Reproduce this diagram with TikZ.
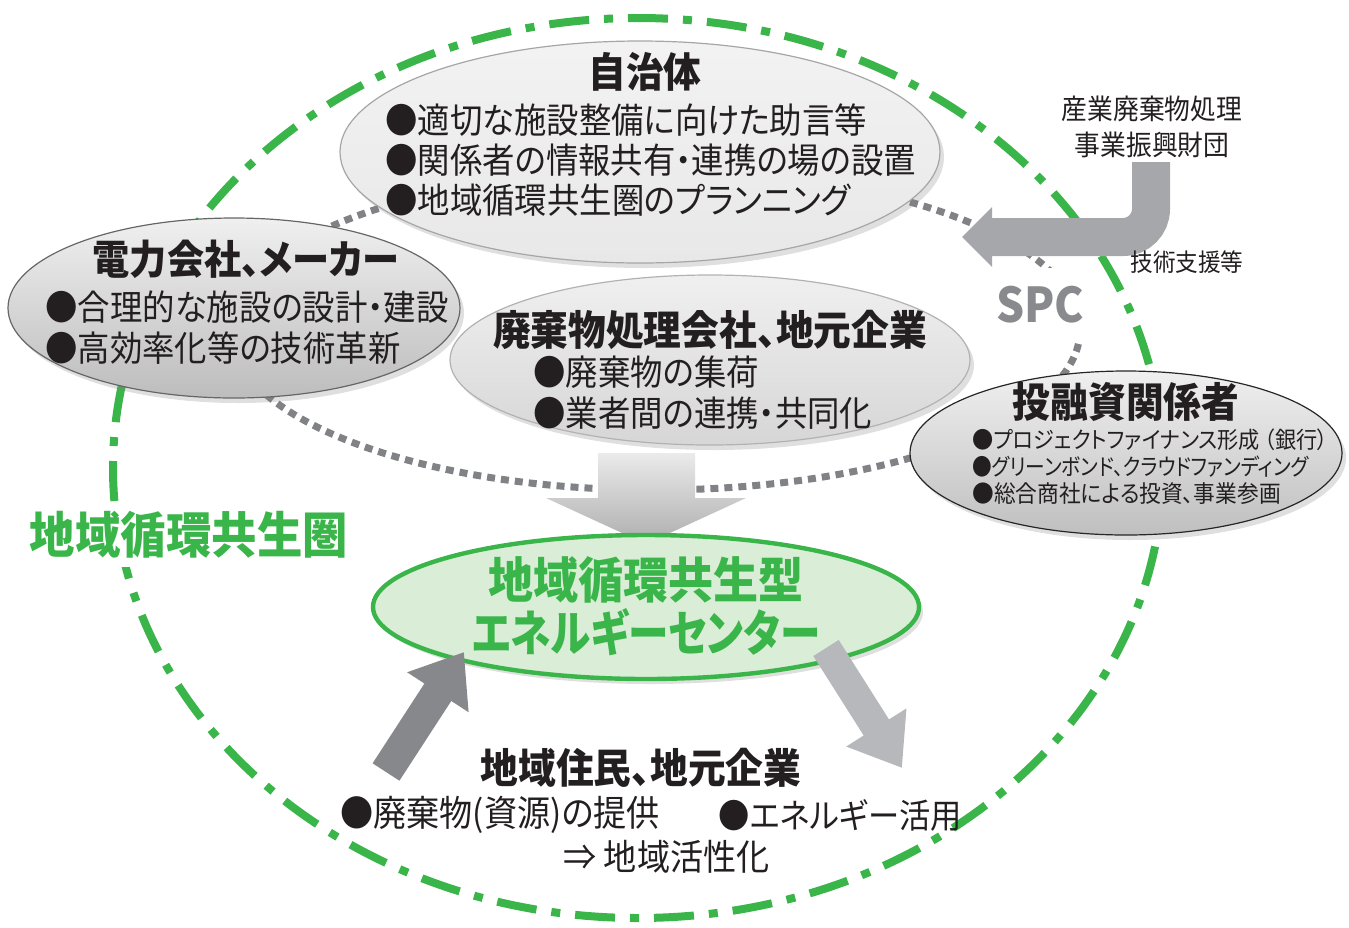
\documentclass[tikz,border=0pt]{standalone}
\usepackage{fontspec}
\usetikzlibrary{shapes.geometric,arrows.meta,shadows}
\newfontfamily\jp[FakeStretch=0.92,RawFeature=+palt]{Noto Sans CJK JP}
\newcommand\jpsize[1]{\fontsize{#1}{#1}\selectfont}
\definecolor{grn}{HTML}{3AB54A}
\definecolor{grnfill}{HTML}{D9EDD7}
\definecolor{dotgray}{HTML}{808285}
\definecolor{tx}{HTML}{231F20}
\definecolor{spcgray}{HTML}{898A8D}
\definecolor{arrdark}{HTML}{87888C}
\definecolor{arrlight}{HTML}{B7B8BC}
\definecolor{arrmid}{HTML}{A6A7AA}
\tikzset{
  ringline/.style={draw=grn, line width=4pt, dash pattern=on 20pt off 7.5pt on 4.5pt off 7.5pt},
  dotline/.style={draw=dotgray, line width=3.5pt, dash pattern=on 4pt off 3pt},
  ell/.style={ellipse, inner sep=0pt, drop shadow={shadow xshift=2pt, shadow yshift=-2.5pt, opacity=0.25}},
  txt/.style={text=tx, inner sep=0pt},
  blockarrow/.style={line cap=butt},
}
\begin{document}
\begin{tikzpicture}[x=0.5pt,y=-0.5pt,font=\jp]
\useasboundingbox (0,0) rectangle (1349,927);
% outer ring
\path[ringline] (638,468) ellipse [x radius=525, y radius=450];
% dotted ring
\path[dotline] (655,330) ellipse [x radius=425, y radius=160];
% ellipses
\node[ell, minimum width=300pt, minimum height=111pt, draw=black!35, line width=0.6pt,
      top color=black!5, bottom color=black!9] (jichi) at (640,152) {};
\node[ell, minimum width=226pt, minimum height=90pt, draw=black!60, line width=0.6pt,
      top color=black!6, bottom color=black!26] (denryoku) at (234,308) {};
\node[ell, minimum width=260pt, minimum height=85pt, draw=black!30, line width=0.6pt,
      top color=black!6, bottom color=black!16] (haiki) at (710,360) {};
\node[ell, minimum width=216pt, minimum height=82pt, draw=black!85, line width=0.6pt,
      top color=black!6, bottom color=black!25] (toyu) at (1126,453) {};
% big down arrow
\coordinate (dtop) at (646,453);
\coordinate (dtip) at (646,544);
\shade[top color=black!8, bottom color=black!32]
  (598,453) -- (695,453) -- (695,498) -- (746,498) -- (dtip) -- (546,498) -- (598,498) -- cycle;
% center ellipse
\node[ell, minimum width=273pt, minimum height=72pt, draw=grn, line width=2.2pt, fill=grnfill]
  (center) at (646,607) {};
% up arrow
\coordinate (upfrom) at (386,772);
\coordinate (upto) at (464,652);
\draw[blockarrow, draw=arrdark, line width=16pt, -{Triangle[width=35pt,length=24pt]}] (upfrom) -- (upto);
% down-right arrow
\coordinate (drfrom) at (826,648);
\coordinate (drto) at (902,768);
\draw[blockarrow, draw=arrlight, line width=15pt, -{Triangle[width=34pt,length=24pt]}] (drfrom) -- (drto);
% curved arrow from foundation
\node[txt, align=center, font=\jp\jpsize{14pt}] (zaidan) at (1152,127) {産業廃棄物処理\\[4pt]事業振興財団};
\coordinate (cstart) at (1151,162);
\coordinate (cend) at (962,237);
\draw[blockarrow, draw=arrmid, line width=19pt, rounded corners=14pt, -{Triangle[width=29pt,length=15pt]}]
  (cstart) -- (1151,237) -- (cend);
\node[txt, anchor=west] (gijutsu) at (1130,262) {\jpsize{12.3pt}技術支援等};
% SPC
\node[text=spcgray, fill=white, inner xsep=3pt, inner ysep=9pt] (spc) at (1040,305) {\jpsize{24pt}\bfseries SPC};
% ring label
\node[text=grn, fill=white, inner sep=4pt] (ken) at (189,535) {\jpsize{24.7pt}\bfseries 地域循環共生圏};
% texts: jichitai
\node[txt] (jt) at (645,72) {\jpsize{20.5pt}\bfseries 自治体};
\node[txt, anchor=west] (j1) at (385,120) {\jpsize{17.6pt}●適切な施設整備に向けた助言等};
\node[txt, anchor=west] (j2) at (385,160) {\jpsize{17.6pt}●関係者の情報共有・連携の場の設置};
\node[txt, anchor=west] (j3) at (385,200) {\jpsize{17.6pt}●地域循環共生圏のプランニング};
% denryoku
\node[txt] (dt) at (246,259) {\jpsize{20.2pt}\bfseries 電力会社、メーカー};
\node[txt, anchor=west] (d1) at (45,307) {\jpsize{17.6pt}●合理的な施設の設計・建設};
\node[txt, anchor=west] (d2) at (45,348) {\jpsize{17.6pt}●高効率化等の技術革新};
% haiki
\node[txt] (ht) at (710,330) {\jpsize{20.5pt}\bfseries 廃棄物処理会社、地元企業};
\node[txt, anchor=west] (h1) at (533,372) {\jpsize{17.6pt}●廃棄物の集荷};
\node[txt, anchor=west] (h2) at (533,413) {\jpsize{17.6pt}●業者間の連携・共同化};
% toyushi
\node[txt] (tt) at (1126,402) {\jpsize{20.5pt}\bfseries 投融資関係者};
\node[txt, anchor=west] (t1) at (972,440) {\jpsize{11.5pt}●プロジェクトファイナンス形成 （銀行）};
\node[txt, anchor=west] (t2) at (972,467) {\jpsize{11.5pt}\scalebox{0.93}[1]{●グリーンボンド、クラウドファンディング}};
\node[txt, anchor=west] (t3) at (972,494) {\jpsize{11.8pt}●総合商社による投資、事業参画};
% center text
\node[text=grn, inner sep=0pt] (c1) at (646,580) {\jpsize{24.5pt}\bfseries 地域循環共生型};
\node[text=grn, inner sep=0pt] (c2) at (646,632) {\jpsize{24.5pt}\bfseries \scalebox{0.9}[1]{エネルギーセンター}};
% residents
\node[txt] (rt) at (641,768) {\jpsize{20.5pt}\bfseries 地域住民、地元企業};
\node[txt, anchor=west] (r1) at (340,815) {\jpsize{18pt}●廃棄物(資源)の提供};
\node[txt, anchor=west] (r2) at (718,815) {\jpsize{17pt}●エネルギー活用};
\node[txt, anchor=west] (r3) at (563,857) {\jpsize{18pt}⇒ 地域活性化};
\end{tikzpicture}
\end{document}
